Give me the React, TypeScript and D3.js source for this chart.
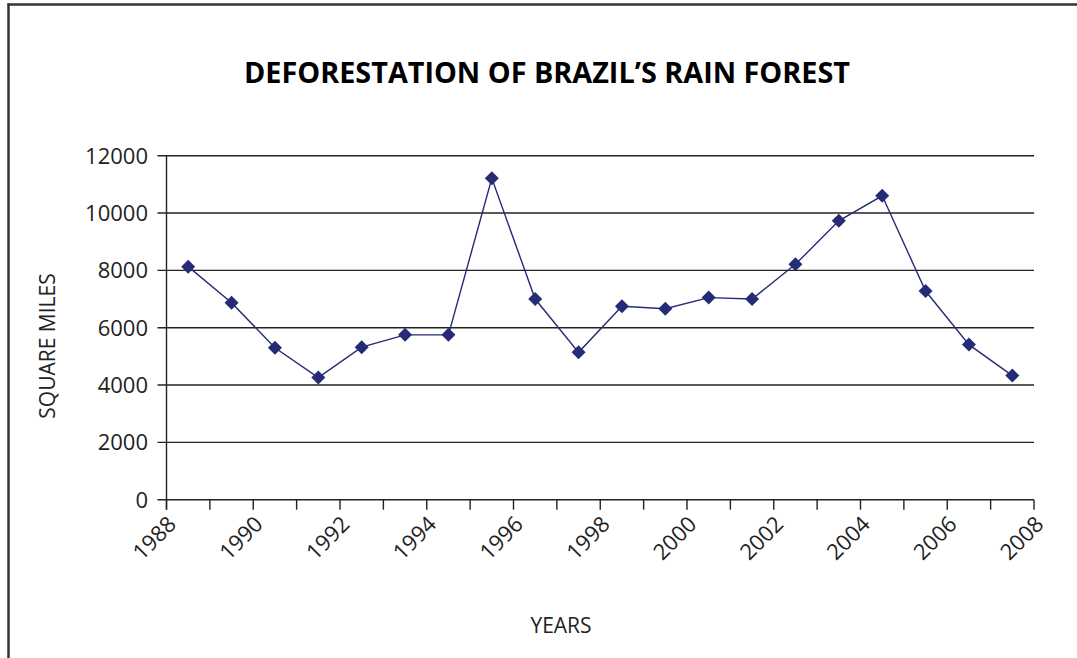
import React from "react";
import * as d3 from "d3";

const years: number[] = [1988, 1989, 1990, 1991, 1992, 1993, 1994, 1995, 1996, 1997, 1998, 1999, 2000, 2001, 2002, 2003, 2004, 2005, 2006, 2007];
const squareMiles: number[] = [8130, 6870, 5300, 4260, 5320, 5750, 5750, 11210, 7000, 5140, 6750, 6660, 7050, 7000, 8210, 9730, 10600, 7280, 5410, 4330];
const yTicks: number[] = [0, 2000, 4000, 6000, 8000, 10000, 12000];
const xTickLabels: string[] = ["1988", "1990", "1992", "1994", "1996", "1998", "2000", "2002", "2004", "2006", "2008"];

const W = 1077;
const H = 658;
const left = 166.5;
const right = 1034;
const top = 155.7;
const bottom = 499.7;
const font = "'Open Sans', 'Noto Sans', sans-serif";
const ink = "#222";
const navy = "#262b75";

export default function App() {
  const x = d3.scaleBand<number>().domain(years).range([left, right]).paddingInner(0).paddingOuter(0);
  const y = d3.scaleLinear().domain([0, 12000]).range([bottom, top]);
  const bw = x.bandwidth();
  const boundaries = d3.range(years.length + 1).map((i) => left + i * bw);
  const line = d3
    .line<number>()
    .x((_, i) => (x(years[i]) as number) + bw / 2)
    .y((d) => y(d));
  const diamond = d3.symbol().type(d3.symbolDiamond2).size(125)();

  return (
    <svg width={W} height={H} style={{ position: "absolute", left: 0, top: 0, background: "#fff" }}>
      {/* frame */}
      <line x1={8.5} x2={8.5} y1={3.5} y2={H} stroke="#333" strokeWidth={2.5} />
      <line x1={7.5} x2={W} y1={4.5} y2={4.5} stroke="#333" strokeWidth={2.5} />

      {/* title */}
      <text x={547} y={83} textAnchor="middle" fontFamily={font} fontWeight={700} fontSize={28.8} fill="#000">
        DEFORESTATION OF BRAZIL’S RAIN FOREST
      </text>

      {/* gridlines */}
      {yTicks.map((t) => (
        <line key={"g" + t} x1={left - 9} x2={right} y1={y(t)} y2={y(t)} stroke={ink} strokeWidth={1.4} />
      ))}
      {/* y axis line */}
      <line x1={left} x2={left} y1={top} y2={bottom + 10} stroke={ink} strokeWidth={1.4} />
      {/* y tick labels */}
      {yTicks.map((t) => (
        <text key={"yl" + t} x={148} y={y(t)} dy="0.36em" textAnchor="end" fontFamily={font} fontSize={22} fill={ink}>
          {t}
        </text>
      ))}

      {/* x ticks */}
      {boundaries.map((bx, i) => (
        <line key={"xt" + i} x1={bx} x2={bx} y1={bottom} y2={bottom + 10} stroke={ink} strokeWidth={1.4} />
      ))}
      {xTickLabels.map((lab, i) => {
        const bx = boundaries[i * 2];
        return (
          <text
            key={"xl" + lab}
            transform={`translate(${bx + 11},${bottom + 26}) rotate(-45)`}
            textAnchor="end"
            fontFamily={font}
            fontSize={22}
            fill={ink}
          >
            {lab}
          </text>
        );
      })}

      {/* series */}
      <path d={line(squareMiles) || ""} fill="none" stroke={navy} strokeWidth={1.4} />
      {squareMiles.map((v, i) => (
        <path
          key={"m" + i}
          d={diamond || ""}
          transform={`translate(${(x(years[i]) as number) + bw / 2},${y(v)})`}
          fill={navy}
        />
      ))}

      {/* axis titles */}
      <text
        transform={`translate(55,346) rotate(-90)`}
        textAnchor="middle"
        fontFamily={font}
        fontSize={21}
        fill={ink}
      >
        SQUARE MILES
      </text>
      <text x={561} y={633} textAnchor="middle" fontFamily={font} fontSize={21} fill={ink}>
        YEARS
      </text>
    </svg>
  );
}
